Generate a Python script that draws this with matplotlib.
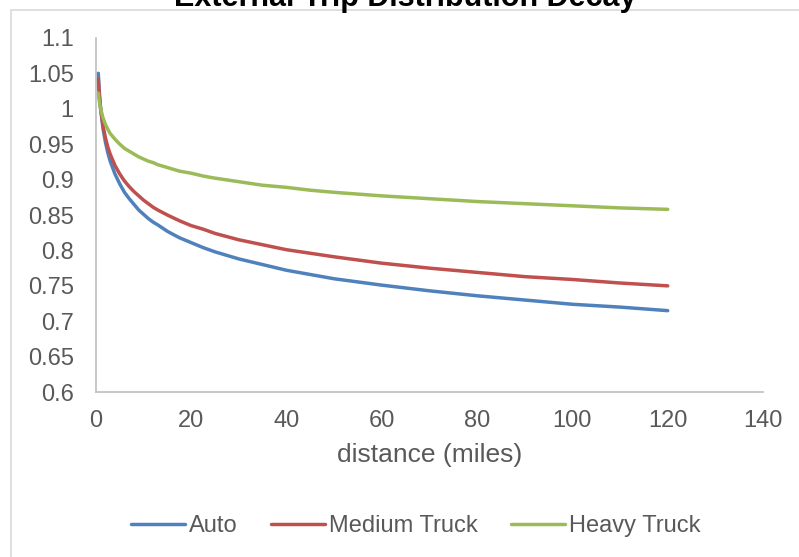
import matplotlib.pyplot as plt
from matplotlib.lines import Line2D

plt.rcParams['font.family'] = ['Liberation Sans', 'DejaVu Sans']

# distance (miles) and decay factors for each vehicle class
distance = [0.5, 0.75, 1, 1.5, 2, 2.5, 3, 4, 5, 6, 7, 8, 9, 10, 11, 12,
            13, 15, 17.5, 20, 22.5, 25, 30, 35, 40, 45, 50, 60, 70, 80, 90,
            100, 110, 120]
auto = [1.050, 1.020, 1.000, 0.972, 0.953, 0.938, 0.926, 0.908, 0.894,
        0.882, 0.873, 0.865, 0.857, 0.851, 0.845, 0.840, 0.836, 0.827,
        0.818, 0.811, 0.804, 0.798, 0.788, 0.780, 0.772, 0.766, 0.760,
        0.751, 0.743, 0.736, 0.730, 0.724, 0.720, 0.715]
medium_truck = [1.042, 1.017, 1.000, 0.976, 0.959, 0.946, 0.936, 0.920,
                0.908, 0.898, 0.890, 0.883, 0.877, 0.871, 0.866, 0.861,
                0.857, 0.850, 0.842, 0.835, 0.830, 0.824, 0.815, 0.808,
                0.801, 0.796, 0.791, 0.782, 0.775, 0.769, 0.763, 0.759,
                0.754, 0.750]
heavy_truck = [1.022, 1.009, 1.000, 0.987, 0.978, 0.971, 0.965, 0.957,
               0.950, 0.944, 0.940, 0.936, 0.932, 0.929, 0.926, 0.924,
               0.921, 0.917, 0.912, 0.909, 0.905, 0.902, 0.897, 0.892,
               0.889, 0.885, 0.882, 0.877, 0.873, 0.869, 0.866, 0.863,
               0.860, 0.858]

x_ticks = [0, 20, 40, 60, 80, 100, 120, 140]
y_ticks = [0.6, 0.65, 0.7, 0.75, 0.8, 0.85, 0.9, 0.95, 1.0, 1.05, 1.1]
y_labels = ['0.6', '0.65', '0.7', '0.75', '0.8', '0.85', '0.9', '0.95',
            '1', '1.05', '1.1']

grey = '#595959'
fig = plt.figure(figsize=(7.99, 5.57), dpi=100)
ax = fig.add_axes([0.120, 0.296, 0.835, 0.636])

style = dict(lw=2.5, solid_capstyle='round', solid_joinstyle='round')
ax.plot(distance, auto, color='#4F81BD', label='Auto', **style)
ax.plot(distance, medium_truck, color='#C0504D', label='Medium Truck', **style)
ax.plot(distance, heavy_truck, color='#9BBB59', label='Heavy Truck', **style)

ax.set_xlim(0, 140)
ax.set_ylim(0.6, 1.1)
ax.set_xticks(x_ticks)
ax.set_yticks(y_ticks)
ax.set_yticklabels(y_labels)
ax.tick_params(length=0, labelsize=17, colors=grey)
ax.tick_params(axis='y', pad=16)
ax.tick_params(axis='x', pad=13)
for s in ['top', 'right']:
    ax.spines[s].set_visible(False)
for s in ['left', 'bottom']:
    ax.spines[s].set_color('#bfbfbf')
    ax.spines[s].set_linewidth(1.2)

ax.set_xlabel('distance (miles)', fontsize=19, color=grey, labelpad=8)

fig.text(0.507, 1 - 6 / 557, 'External Trip Distribution Decay', ha='center',
         va='baseline', fontsize=22, fontweight='bold', color='black')

# chart area border
fig.add_artist(Line2D([11 / 799, 11 / 799, 1.0], [0.0, 1 - 10 / 557, 1 - 10 / 557],
                      transform=fig.transFigure, color='#d9d9d9', lw=1.2))

fig.legend(loc='center', bbox_to_anchor=(0.52, 1 - 526 / 557), ncol=3,
           frameon=False, fontsize=17, labelcolor=grey, handlelength=2.3,
           handletextpad=0.17, columnspacing=1.4)

fig.savefig('out.png', dpi=100)
